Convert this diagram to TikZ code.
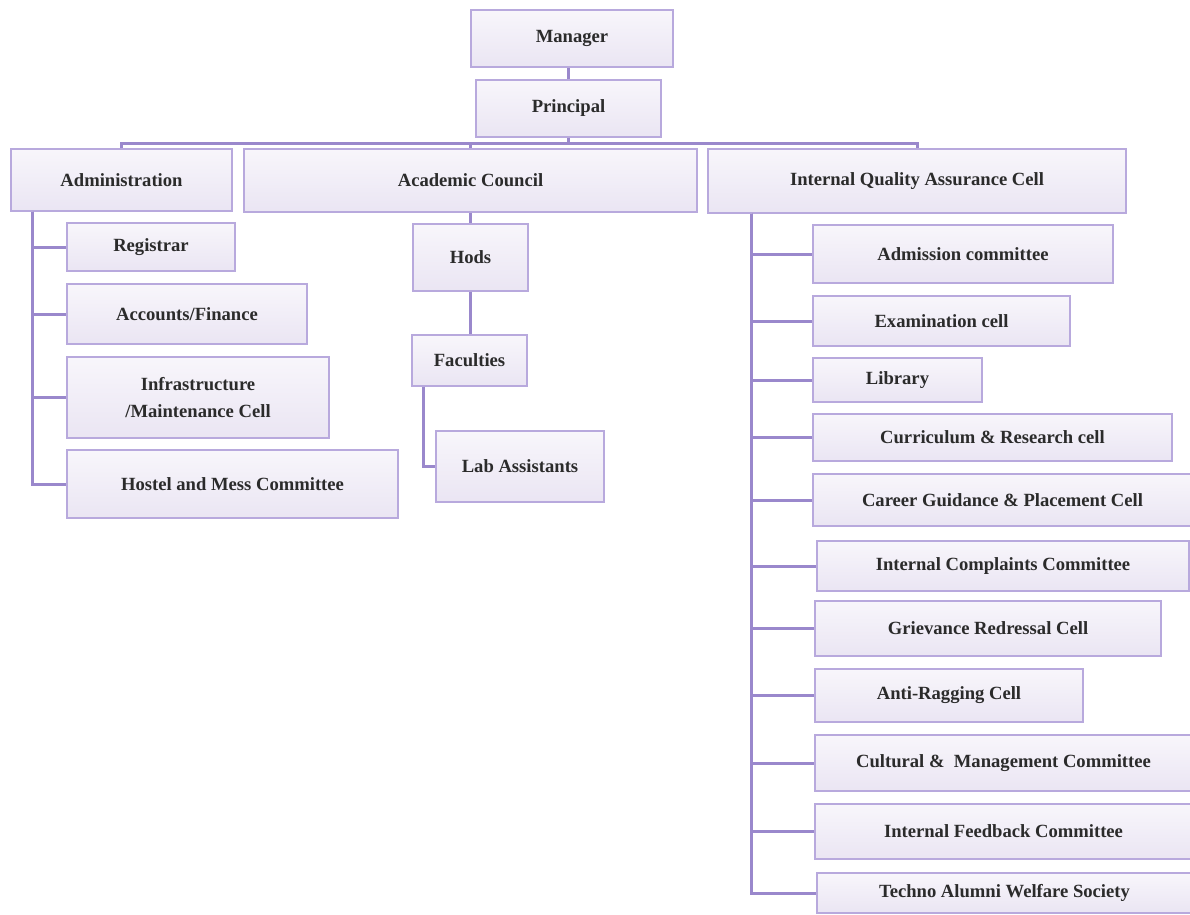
\documentclass[tikz,border=0pt]{standalone}
\usepackage{fontspec}
\setmainfont{Liberation Serif}
\usetikzlibrary{calc, positioning}

\definecolor{boxline}{HTML}{B8A9DD}
\definecolor{boxtop}{HTML}{F8F6FB}
\definecolor{boxbot}{HTML}{EAE5F3}
\definecolor{linkcol}{HTML}{9A88CC}
\definecolor{txt}{HTML}{2B2B2B}

\begin{document}
\begin{tikzpicture}[
        x=0.02cm, y=-0.02cm,
        box/.style={rectangle, draw=boxline, line width=0.7pt, top color=boxtop, bottom color=boxbot, inner sep=0pt, align=center, text=txt, font=\bfseries\fontsize{10.6}{15}\selectfont},
        wh/.style 2 args={minimum width=#1*0.02cm, minimum height=#2*0.02cm},
        link/.style={draw=linkcol, line width=1.7pt}
    ]
    \useasboundingbox (0,0) rectangle (1190,914);

    % top
    \node[box, wh={202}{57}] (man) at (572,38.5) {Manager};
    \node[box, wh={185}{57}] (pri) at (568.5,108.5) {Principal};

    % second level
    \node[box, wh={221}{62}] (adm) at (121.5,180) {Administration};
    \node[box, wh={453}{63}] (ac) at (470.5,180.5) {Academic Council};
    \node[box, wh={418}{64}] (iqac) at (917,181) {Internal Quality Assurance Cell};

    % administration
    \node[box, wh={168}{48}] (reg) at (151,247) {Registrar};
    \node[box, wh={240}{60}] (acc) at (187,314) {Accounts/Finance};
    \node[box, wh={262}{81}] (inf) at (198,397.5) {Infrastructure\\/Maintenance Cell};
    \node[box, wh={331}{68}] (hos) at (232.5,484) {Hostel and Mess Committee};

    % academic council
    \node[box, wh={115}{67}] (hod) at (470.5,257.5) {Hods};
    \node[box, wh={115}{51}] (fac) at (469.5,360.5) {Faculties};
    \node[box, wh={168}{71}] (lab) at (520,466.5) {Lab Assistants};

    % iqac
    \node[box, wh={300}{58}] (adc) at (963,254) {Admission committee};
    \node[box, wh={257}{50}] (exa) at (941.5,321) {Examination cell};
    \node[box, wh={169}{44}] (lib) at (897.5,380) {Library};
    \node[box, wh={359}{47}] (cur) at (992.5,437.5) {Curriculum \& Research cell};
    \node[box, wh={379}{52}] (car) at (1002.5,500) {Career Guidance \& Placement Cell};
    \node[box, wh={372}{50}] (icc) at (1003,566) {Internal Complaints Committee};
    \node[box, wh={346}{55}] (grc) at (988,628.5) {Grievance Redressal Cell};
    \node[box, wh={268}{53}] (arc) at (949,695.5) {Anti-Ragging Cell};
    \node[box, wh={377}{56}] (cmc) at (1003.5,763) {Cultural \& \ Management Committee};
    \node[box, wh={377}{55}] (ifc) at (1003.5,831.5) {Internal Feedback Committee};
    \node[box, wh={375}{40}] (taw) at (1004.5,893) {Techno Alumni Welfare Society};

    % connectors
    \coordinate (bus) at (0,143);
    \draw[link] (pri.north) -- (pri.north |- man.south);
    \draw[link] (pri.south) -- (pri.south |- bus);
    \draw[link] (adm.north) -- (adm.north |- bus) -- (iqac.north |- bus) -- (iqac.north);
    \draw[link] (ac.north) -- (ac.north |- bus);

    \coordinate (admtrunk) at ($(adm.south west)+(22,0)$);
    \foreach \c in {reg,acc,inf,hos}
        \draw[link] (admtrunk) |- (\c.west);

    \draw[link] (ac.south) -- (hod.north);
    \draw[link] (hod.south) -- (hod.south |- fac.north);
    \draw[link] ($(fac.south west)+(12,0)$) |- (lab.west);

    \coordinate (iqtrunk) at ($(iqac.south west)+(44,0)$);
    \foreach \c in {adc,exa,lib,cur,car,icc,grc,arc,cmc,ifc,taw}
        \draw[link] (iqtrunk) |- (\c.west);

\end{tikzpicture}
\end{document}
